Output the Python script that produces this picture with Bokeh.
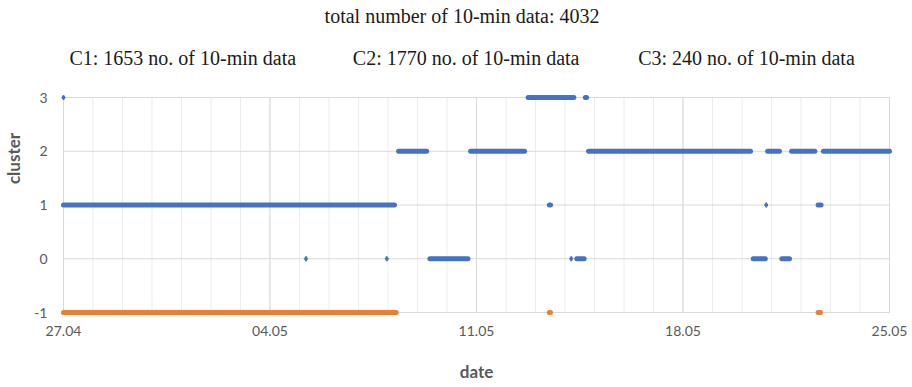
from bokeh.plotting import figure
from bokeh.models import FixedTicker, Label, Range1d
from bokeh.embed import file_html
from bokeh.resources import INLINE

# ---------------- data (x = days since 27.04, 10-min samples shown as runs) -------------
date_ticks = [0, 7, 14, 21, 28]
date_labels = ["27.04", "04.05", "11.05", "18.05", "25.05"]
day_grid = list(range(0, 29))
cluster_ticks = [-1, 0, 1, 2, 3]
cluster_labels = ["-1", "0", "1", "2", "3"]

# blue series: cluster label per 10-min sample (runs of constant cluster)
blue_run_start = [0.00, 11.36, 12.42, 13.80, 15.75, 16.47, 17.40, 17.69, 17.80,
                  23.38, 23.87, 24.35, 24.68, 25.58, 25.76]
blue_run_end = [11.22, 12.31, 13.71, 15.63, 17.30, 16.51, 17.65, 17.73, 23.29,
                23.79, 24.27, 24.61, 25.47, 25.68, 28.00]
blue_run_level = [1, 2, 0, 2, 3, 1, 0, 3, 2,
                  0, 2, 0, 2, 1, 2]
blue_point_day = [0.00, 8.22, 10.96, 17.21, 23.82]
blue_point_level = [3, 0, 0, 0, 1]

# orange series
orange_run_start = [0.00, 16.47, 25.58]
orange_run_end = [11.28, 16.51, 25.66]
orange_run_level = [-1, -1, -1]

title_text = "total number of 10-min data: 4032"
cluster_texts = ["C1: 1653 no. of 10-min data",
                 "C2: 1770 no. of 10-min data",
                 "C3: 240 no. of 10-min data"]

BLUE = "#4472C4"
ORANGE = "#ED7D31"

# ---------------- geometry -------------
PX0, PXD = 61.0, 29.57       # canvas x of day 0, px per day
PY0, PYU = 312.0, 53.75      # canvas y of cluster -1, px per unit
PAD = 4.0

def dx(px):
    return (px - PX0) / PXD

def dy(py):
    return -1 + (PY0 - py) / PYU

W, H = 912, 387
left_px, right_px = PX0 - PAD, PX0 + 28 * PXD + PAD
top_px, bottom_px = 0.0, PY0 + PAD

p = figure(width=W, height=H, output_backend="svg", toolbar_location=None,
           x_range=Range1d(dx(left_px), dx(right_px)),
           y_range=Range1d(dy(bottom_px), dy(top_px)),
           min_border_left=int(left_px), min_border_right=int(W - right_px),
           min_border_top=0, min_border_bottom=int(H - bottom_px))
p.outline_line_color = None
p.background_fill_color = "white"
p.border_fill_color = "white"
p.xgrid.visible = False
p.ygrid.visible = False

# grid lines limited to the data box
p.segment(x0=day_grid, y0=[cluster_ticks[0]] * len(day_grid),
          x1=day_grid, y1=[cluster_ticks[-1]] * len(day_grid),
          line_color="#ececec", line_width=1)
p.segment(x0=date_ticks, y0=[cluster_ticks[0]] * len(date_ticks),
          x1=date_ticks, y1=[cluster_ticks[-1]] * len(date_ticks),
          line_color="#d9d9d9", line_width=1)
p.segment(x0=[date_ticks[0]] * len(cluster_ticks), y0=cluster_ticks,
          x1=[date_ticks[-1]] * len(cluster_ticks), y1=cluster_ticks,
          line_color="#d9d9d9", line_width=1)

# data
p.segment(x0=blue_run_start, y0=blue_run_level, x1=blue_run_end, y1=blue_run_level,
          line_color=BLUE, line_width=5, line_cap="round")
p.scatter(x=blue_point_day, y=blue_point_level, marker="diamond", size=5,
          fill_color=BLUE, line_color=BLUE)
p.segment(x0=orange_run_start, y0=orange_run_level, x1=orange_run_end, y1=orange_run_level,
          line_color=ORANGE, line_width=5, line_cap="round")

# axes
for ax in (p.xaxis[0], p.yaxis[0]):
    ax.axis_line_color = None
    ax.major_tick_line_color = None
    ax.minor_tick_line_color = None
    ax.major_tick_out = 0
    ax.major_tick_in = 0
    ax.major_label_text_font = "Lato"
    ax.major_label_text_font_size = "14px"
    ax.major_label_text_color = "#595959"
    ax.axis_label_text_font = "Lato"
    ax.axis_label_text_font_size = "17px"
    ax.axis_label_text_font_style = "bold"
    ax.axis_label_text_color = "#595959"

p.xaxis.ticker = FixedTicker(ticks=date_ticks)
p.xaxis.major_label_overrides = {t: l for t, l in zip(date_ticks, date_labels)}
p.xaxis.major_label_standoff = 9
p.xaxis.axis_label = "date"
p.xaxis.axis_label_standoff = 22

p.yaxis.ticker = FixedTicker(ticks=cluster_ticks)
p.yaxis.major_label_overrides = {t: l for t, l in zip(cluster_ticks, cluster_labels)}
p.yaxis.major_label_standoff = 12
p.yaxis.axis_label = "cluster"
p.yaxis.axis_label_standoff = 7

# header texts
p.add_layout(Label(x=dx(460.5), y=dy(15), text=title_text, text_align="center",
                   text_baseline="alphabetic", text_font="Liberation Serif",
                   text_font_size="20px", text_color="#1a1a1a"))
for txt, px in zip(cluster_texts, [67, 351, 637]):
    p.add_layout(Label(x=dx(px), y=dy(57), text=txt, text_align="left",
                       text_baseline="alphabetic", text_font="Liberation Serif",
                       text_font_size="20px", text_color="#1a1a1a"))

open("out.html", "w").write(file_html(p, INLINE))
